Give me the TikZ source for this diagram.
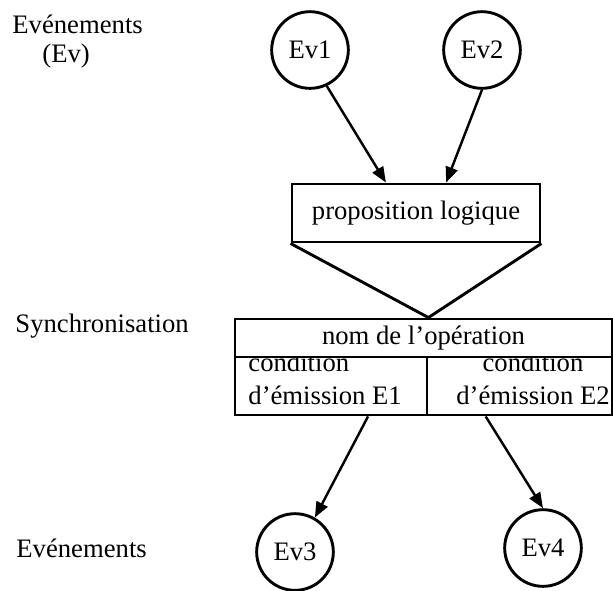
\documentclass[tikz,border=0pt]{standalone}
\usepackage{fontspec}
\setmainfont{Liberation Serif}
\usetikzlibrary{arrows.meta,positioning,calc}

\begin{document}
\begin{tikzpicture}[x=0.45pt,y=-0.45pt,
    every node/.style={font=\fontsize{12}{14}\selectfont},
    ev/.style={draw, circle, line width=1.3pt, minimum size=34.5pt, inner sep=0pt},
    cell/.style={draw, rectangle, line width=1.3pt, inner sep=0pt},
    arr/.style={-{Triangle[length=7pt,width=5.5pt]}, line width=1.1pt}]
    \useasboundingbox (0,0) rectangle (613,590);

    % labels on the left
    \node[anchor=base west, inner sep=0pt] (levh) at (12,33) {Evénements};
    \node[anchor=base west, inner sep=0pt] (lev) at (42,62) {(Ev)};
    \node[anchor=base west, inner sep=0pt] (lsyn) at (15,332) {Synchronisation};
    \node[anchor=base west, inner sep=0pt] (levb) at (16,557) {Evénements};

    % events
    \node[ev] (ev1) at (310,50) {Ev1};
    \node[ev] (ev2) at (482,50) {Ev2};
    \node[ev] (ev3) at (295,552) {Ev3};
    \node[ev] (ev4) at (543,548) {Ev4};

    % synchronisation
    \node[cell, minimum width=111.6pt, minimum height=26.1pt] (prop) at (416,213) {proposition logique};
    \node[cell, minimum width=169.65pt, minimum height=17.1pt] (nom) at (423.5,338) {nom de l'opération};
    \node[cell, minimum width=86.4pt, minimum height=26.1pt] (c1) at (331,386) {};
    \node[cell, minimum width=83.25pt, minimum height=26.1pt] (c2) at (519.5,386) {};
    \begin{scope}
        \clip (235,357) rectangle (612,415);
        \node[anchor=west, align=left, inner sep=0pt, font=\fontsize{12}{15}\selectfont] (e1) at (248,379) {condition\\d'émission E1};
        \node[align=center, inner sep=0pt, font=\fontsize{12}{15}\selectfont] (e2) at (533,379) {condition\\d'émission E2};
    \end{scope}
    \draw[line width=1.3pt, line join=miter] (prop.south west) -- (c1.north east |- nom.north) -- (prop.south east);

    \draw[arr] (ev1.-65) -- ($(prop.north west)!0.38!(prop.north east)$);
    \draw[arr] (ev2.south) -- ($(prop.north west)!0.62!(prop.north east)$);
    \draw[arr] ($(c1.south west)!0.69!(c1.south east)$) -- (ev3.60);
    \draw[arr] ($(c2.south west)!0.32!(c2.south east)$) -- (ev4.north);
\end{tikzpicture}
\end{document}
